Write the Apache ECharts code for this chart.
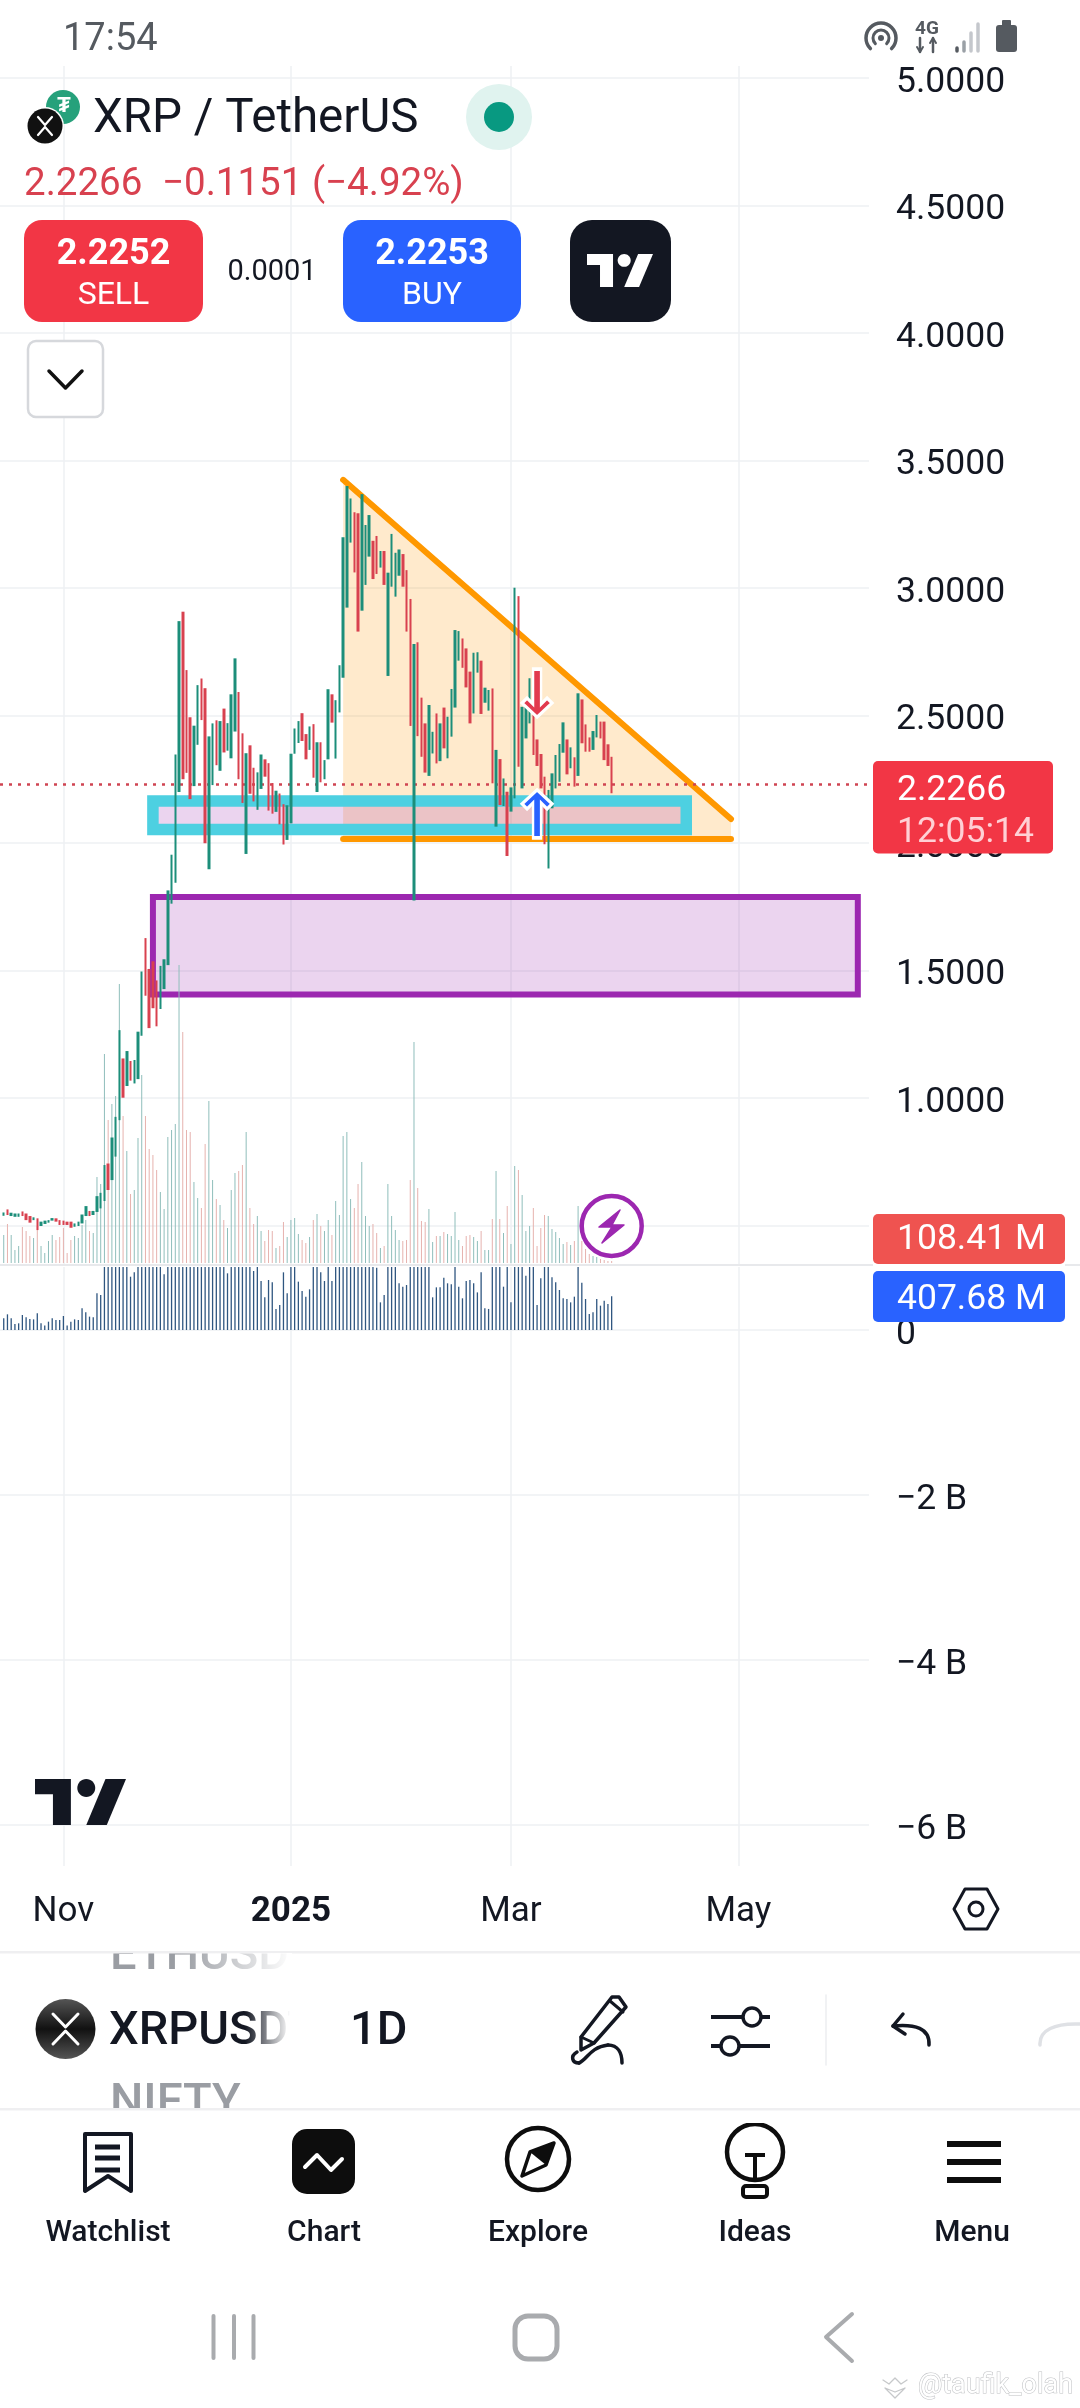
<!DOCTYPE html>
<html><head><meta charset="utf-8">
<style>html,body{margin:0;padding:0;background:#fff}#c{width:1080px;height:2408px}</style>
<script src="https://cdn.jsdelivr.net/npm/echarts@6/dist/echarts.min.js"></script>
</head><body><div id="c"></div>
<script>
const startDate = '2024-10-15', dayCount = 234, firstCandle = 1;
const xTickDates = ['2024-11-01','2025-01-01','2025-03-01','2025-05-01'];
const xTickLabels = ['Nov','{b|2025}','Mar','May'];
const priceTicks = [5,4.5,4,3.5,3,2.5,2,1.5,1,0.5];
const lowerTicks = [0,-2000,-4000,-6000];
const lastPrice = 2.2266;
const candleDirs = ('uduuudddud'+'uuuudddddu'+'uuuduuuudu'+'uududuuudd'+'dduuuuuudd'+'duudduudud'+'uuuddudduu'+'dddudduuuu'+'ddududuudu'+'uuuudduuud'+'duduuuuddd'+'uddduududu'+'uuuddduudu'+'udududuudu'+'uudddduuuu'+'udududdduu'+'dddd').split('');
const highs = [0.551,0.563,0.550,0.547,0.547,0.555,0.547,0.537,0.532,0.528,
0.515,0.519,0.521,0.529,0.528,0.521,0.519,0.515,0.515,0.508,
0.515,0.543,0.576,0.557,0.557,0.615,0.628,0.737,0.743,0.845,
0.926,1.266,1.155,1.184,1.145,1.149,1.260,1.496,1.627,1.506,
1.536,1.461,1.518,1.544,1.814,1.954,2.347,2.870,2.907,2.678,
2.493,2.460,2.619,2.645,2.607,2.418,2.469,2.481,2.478,2.527,
2.470,2.583,2.724,2.592,2.430,2.352,2.383,2.295,2.277,2.347,
2.328,2.313,2.235,2.205,2.194,2.152,2.148,2.350,2.449,2.478,
2.509,2.427,2.457,2.466,2.395,2.395,2.325,2.603,2.583,2.560,
2.697,3.199,3.400,3.351,3.297,3.293,3.368,3.247,3.286,3.185,
3.204,3.145,3.145,3.060,3.212,3.138,3.151,3.133,3.070,2.957,
2.780,2.787,2.570,2.469,2.541,2.436,2.508,2.469,2.531,2.495,
2.604,2.835,2.831,2.802,2.763,2.672,2.746,2.748,2.715,2.609,
2.600,2.606,2.365,2.329,2.253,2.201,2.218,3.001,2.968,2.534,
2.534,2.646,2.508,2.406,2.349,2.260,2.208,2.273,2.345,2.388,
2.473,2.406,2.375,2.336,2.587,2.563,2.465,2.414,2.439,2.502,
2.476,2.476,2.387,2.338];
const lows = [0.538,0.541,0.537,0.534,0.534,0.537,0.521,0.511,0.521,0.482,
0.498,0.506,0.511,0.519,0.515,0.502,0.502,0.502,0.491,0.495,
0.498,0.508,0.537,0.537,0.541,0.553,0.567,0.596,0.639,0.678,
0.770,0.913,1.001,1.047,1.068,1.057,1.074,1.244,1.401,1.274,
1.352,1.281,1.349,1.427,1.521,1.762,1.844,2.200,2.250,2.275,
2.172,2.223,2.385,2.482,1.999,1.897,2.227,2.305,2.283,2.355,
2.362,2.332,2.437,2.250,2.157,1.957,2.193,2.163,2.130,2.212,
2.260,2.127,2.115,2.122,2.073,1.994,2.012,2.077,2.350,2.392,
2.400,2.328,2.365,2.256,2.200,2.238,2.250,2.328,2.472,2.331,
2.512,2.648,2.923,3.178,3.061,2.829,2.911,3.012,3.123,3.035,
3.055,3.080,3.012,2.655,3.005,2.966,3.048,3.005,2.829,2.459,
1.774,2.419,2.338,2.276,2.263,2.351,2.312,2.321,2.371,2.332,
2.417,2.531,2.715,2.687,2.610,2.469,2.508,2.668,2.506,2.550,
2.519,2.234,2.064,2.149,2.145,1.949,2.123,2.175,2.299,2.214,
2.410,2.469,2.345,2.302,2.214,1.995,1.900,2.136,2.214,2.240,
2.354,2.269,2.293,2.221,2.263,2.391,2.358,2.358,2.365,2.414,
2.410,2.325,2.302,2.195];
const overlayVolumeM = [280,390,280,130,170,360,320,270,250,370,
170,100,220,280,230,260,350,100,230,270,
250,380,430,320,300,860,790,2090,1430,1590,
1670,2790,1470,1120,690,730,1250,1880,1470,1140,
1080,930,710,540,1260,1330,1390,2980,2310,1330,
1310,810,650,550,1190,1620,830,640,580,430,
350,730,900,920,980,1310,550,390,470,320,
220,330,320,150,170,410,260,430,450,290,
230,200,260,430,490,370,320,430,280,620,
480,1270,1310,640,550,790,1010,470,370,390,
300,150,170,790,470,330,230,220,230,830,
2210,750,420,410,540,210,270,270,310,290,
270,510,230,170,270,280,260,220,320,130,
130,440,920,440,300,570,190,970,930,680,
320,370,550,170,350,480,470,340,310,250,
190,210,180,220,570,220,140,90,70,60,
40,30,20,20];
const lowerVolumeM = [141,190,141,73,81,182,154,133,129,202,
81,53,101,141,121,121,170,53,101,129,
121,263,214,162,154,444,424,2290,1630,1790,
1870,2990,1670,1320,646,699,1450,2080,1670,1340,
1280,1130,910,675,1460,1530,1590,3180,2510,1530,
1510,1010,850,820,1390,1820,1030,840,800,790,
687,930,1100,1120,1180,1510,800,715,800,594,
396,606,578,255,303,699,444,800,800,586,
473,404,493,800,800,699,594,800,594,820,
780,1470,1510,840,800,990,1210,800,780,790,
755,335,424,990,800,770,566,525,545,1030,
2410,950,800,790,790,396,517,517,634,566,
553,800,525,384,594,606,566,456,699,263,
255,800,1120,800,525,800,335,1170,1130,880,
659,800,800,303,626,800,800,638,578,485,
384,376,335,404,800,574,376,194,214,376,
295,356,315,408];
const triangleDays = [92,196,196,92], trianglePrices = [3.424,2.094,2.016,2.016];
const supportBoxDays = [41,184], supportBoxPrices = [2.165,2.053];
const demandBoxDays = [41,230], demandBoxPrices = [1.788,1.406];
const sellArrow = [144,2.588], buyArrow = [144,2.114];

const TEAL='#1c8e7a', RED='#d8414f', GRID='#eef0f3', INK='#131722';
const FONT='Roboto, sans-serif';
const categories=[]; { const d0=Date.parse(startDate+'T00:00:00Z'); for(let i=0;i<dayCount;i++) categories.push(new Date(d0+i*864e5).toISOString().slice(0,10)); }
const isTick=(i,v)=>xTickDates.includes(v);
const up=i=>candleDirs[i]==='u';
// index 0 of the category axis (first day) has no candle
const candleData=[['-','-','-','-']].concat(highs.map((h,i)=>up(i)?[lows[i],h,lows[i],h]:[h,lows[i],lows[i],h]));
const UPARROW='path://M15 0 L30 14 L25 19 L19 13 L19 48 L11 48 L11 13 L5 19 L0 14 Z';
const DOWNARROW='path://M15 48 L30 34 L25 29 L19 35 L19 0 L11 0 L11 35 L5 29 L0 34 Z';

function polySeries(name,z,days,prices,draw){
  return {type:'custom',name,xAxisIndex:0,yAxisIndex:0,z,silent:true,clip:false,
    data:days.map((d,i)=>[d,prices[i]]),
    renderItem(p,api){ if(p.dataIndex!==0) return; return draw(api); }};
}
const lineCommon={stroke:'#ff9800',lineWidth:6,lineCap:'round'};

// ---- page furniture ----
const G=[];
const TY=3; // vertical optical offset for middle-aligned text
const txt=(x,y,text,size,fill,o={})=>G.push({type:'text',x,y:y+TY,z:o.z||50,style:{text,fontSize:size,fill,fontFamily:FONT,fontWeight:o.w||400,align:o.a||'left',verticalAlign:'middle',opacity:o.op==null?1:o.op}});
const rect=(x,y,w,h,fill,o={})=>G.push({type:'rect',z:o.z||40,shape:{x,y,width:w,height:h,r:o.r||0},style:{fill,stroke:o.s||null,lineWidth:o.lw||0}});
const circ=(cx,cy,r,fill,o={})=>G.push({type:'circle',z:o.z||40,shape:{cx,cy,r},style:{fill,stroke:o.s||null,lineWidth:o.lw||0}});
const pl=(pts,stroke,lw,o={})=>G.push({type:'polyline',z:o.z||45,shape:{points:pts},style:{fill:null,stroke,lineWidth:lw,lineCap:o.cap||'round',lineJoin:'round'}});
const pg=(pts,fill,o={})=>G.push({type:'polygon',z:o.z||45,shape:{points:pts},style:{fill,stroke:o.s||null,lineWidth:o.lw||0,lineJoin:'round'}});
const curve=(x1,y1,c1x,c1y,c2x,c2y,x2,y2,stroke,lw)=>G.push({type:'bezierCurve',z:45,shape:{x1,y1,x2,y2,cpx1:c1x,cpy1:c1y,cpx2:c2x,cpy2:c2y},style:{fill:null,stroke,lineWidth:lw,lineCap:'round'}});
function tvLogo(x,y,w,h,fill,z){
  const P=(a)=>a.map(p=>[x+p[0]/35.5*w,y+p[1]/18*h]);
  pg(P([[0,0],[14,0],[14,18],[7,18],[7,6],[0,6]]),fill,{z});
  pg(P([[27.5,0],[35.5,0],[28,18],[20,18]]),fill,{z});
  G.push({type:'ellipse',z,shape:{cx:x+20/35.5*w,cy:y+3.5/18*h,rx:3.5/35.5*w,ry:3.5/18*h},style:{fill}});
}

// status bar
txt(63,37,'17:54',38,'#555a60');
G.push({type:'arc',z:45,shape:{cx:881,cy:38,r:15,startAngle:Math.PI*0.75,endAngle:Math.PI*0.25},style:{fill:null,stroke:'#555a60',lineWidth:3.5,lineCap:'round'}});
G.push({type:'arc',z:45,shape:{cx:881,cy:38,r:8,startAngle:Math.PI*0.75,endAngle:Math.PI*0.25},style:{fill:null,stroke:'#555a60',lineWidth:3,lineCap:'round'}});
circ(881,38,3,'#555a60');
txt(927,26,'4G',19,'#555a60',{a:'center',w:700});
pl([[920,52],[920,38]],'#555a60',2.5); pl([[933,38],[933,52]],'#555a60',2.5);
pl([[917,47],[920,52],[923,47]],'#555a60',2); pl([[930,43],[933,38],[936,43]],'#555a60',2);
pl([[957,51],[957,48]],'#555a60',3.5); pl([[964,51],[964,42]],'#9aa0a6',3.5); pl([[971,51],[971,33]],'#c4c7cc',3.5); pl([[978,51],[978,24]],'#c4c7cc',3.5);
rect(996,25,21,27,'#555a60',{r:3}); rect(1002,20,9,6,'#555a60',{r:1});

// header legend
circ(63,107,17,'#26a17b'); txt(64,103,'₮',22,'#fff',{a:'center',w:700,z:41});
circ(45,126,19,'#fff',{z:42}); circ(45,126,17.5,'#111',{z:43});
pl([[38,117],[45,125],[52,117]],'#fff',2.2,{z:46}); pl([[38,135],[45,127],[52,135]],'#fff',2.2,{z:46});
txt(93,117,'XRP / TetherUS',47.5,INK);
circ(499,117,33,'#e0f3ef'); circ(499,117,15,'#089981',{z:41});
txt(24,182,'2.2266',38.5,RED); txt(162,182,'−0.1151 (−4.92%)',38.5,RED);
// buttons
rect(24,220,179,102,'#f23645',{r:18}); txt(113.5,252,'2.2252',36,'#fff',{a:'center',w:700}); txt(113.5,293,'SELL',32,'#fff',{a:'center'});
txt(272,270,'0.0001',29,INK,{a:'center'});
rect(343,220,178,102,'#2962ff',{r:18}); txt(432,252,'2.2253',36,'#fff',{a:'center',w:700}); txt(432,293,'BUY',32,'#fff',{a:'center'});
rect(570,220,101,102,'#131722',{r:22}); tvLogo(587,254,66,33,'#fff',45);
rect(28,341,75,76,'#fff',{r:8,s:'#d6d8dc',lw:2.5}); pl([[49,371],[65.5,388],[82,371]],'#111',3.5);
// chart watermark logo
tvLogo(35,1779,91,46,'#131722',8);

// price tags
rect(873,761,180,92.5,'#f23645',{r:5,z:30});
txt(897,788,'2.2266',35.5,'#fff',{z:31}); txt(897,830,'12:05:14',35.5,'#ffd0d5',{z:31});
rect(873,1214,192,50,'#ef5350',{r:5,z:30}); txt(897,1237,'108.41 M',35.5,'#fff',{z:31});
rect(873,1271,192,51,'#2962ff',{r:5,z:30}); txt(897,1297,'407.68 M',35.5,'#fff',{z:31});
// bolt
circ(611.7,1226,30,'#fff',{s:'#9c27b0',lw:4.5,z:20});
pg([[620,1210],[599,1227],[612,1227],[602,1243],[624,1225],[612,1225]],'#9c27b0',{z:21,s:'#9c27b0',lw:1.5});
// pane separator
rect(0,1264,873,2,'#e8e9ec',{z:3}); rect(1065,1264,15,2,'#e8e9ec',{z:3});
// settings hexagon
pg([[954,1909],[965,1889],[987,1889],[998,1909],[987,1929],[965,1929]],'#fff',{s:INK,lw:3});
circ(976,1909,7,'#fff',{s:INK,lw:3,z:46});

// toolbar symbols
txt(110,1954,'ETHUSD',47,'#9a9da3',{z:41,w:500});
rect(0,1930,1080,22,'#fff',{z:42});
rect(0,1951,1080,2.5,'#efeff1',{z:43});
G.push({type:'rect',z:44,shape:{x:180,y:1953,width:112,height:40},style:{fill:new echarts.graphic.LinearGradient(0,0,1,0,[{offset:0,color:'rgba(255,255,255,0)'},{offset:1,color:'#fff'}])}});
txt(110,2101,'NIFTY',47,'#9a9da3',{z:41,w:500});
rect(0,2108,1080,15,'#fff',{z:42}); rect(0,2108,1080,2.5,'#efeff1',{z:43});
G.push({type:'circle',z:40,shape:{cx:65.5,cy:2029,r:30},style:{fill:new echarts.graphic.LinearGradient(0,0,0,1,[{offset:0,color:'#555'},{offset:.5,color:'#111'},{offset:1,color:'#555'}])}});
pl([[53,2014],[65.5,2027],[78,2014]],'#fff',3); pl([[53,2044],[65.5,2031],[78,2044]],'#fff',3);
txt(109,2029,'XRPUSDT',47,INK,{w:500,z:41});
G.push({type:'rect',z:44,shape:{x:245,y:2000,width:45,height:60},style:{fill:new echarts.graphic.LinearGradient(0,0,1,0,[{offset:0,color:'rgba(255,255,255,0)'},{offset:1,color:'#fff'}])}});
rect(290,2000,50,60,'#fff',{z:44});
txt(350,2029,'1D',47,INK,{w:500});
// pencil
pg([[581,2037],[581,2050],[594,2043],[626,2007],[619,1997],[612,1997]],'#fff',{s:'#131722',lw:3.5});
pl([[610,2001],[623,2012]],'#131722',3); pl([[581,2037],[594,2043]],'#131722',3);
curve(577,2052,570,2056,572,2063,579,2063,'#131722',3.5);
curve(579,2063,587,2060,590,2047,608,2045,'#131722',3.5);
curve(608,2045,618,2045,622,2053,622,2063,'#131722',3.5);
// sliders
pl([[711,2017],[770,2017]],'#131722',4,{cap:'butt'}); pl([[711,2046],[770,2046]],'#131722',4,{cap:'butt'});
circ(752,2017,9,'#fff',{s:'#131722',lw:3.5,z:46}); circ(730,2046,9,'#fff',{s:'#131722',lw:3.5,z:46});
pl([[826,1995],[826,2065]],'#eceef1',1.5);
// undo / redo
pl([[903,2014],[893,2026],[905,2034]],'#131722',3.5);
curve(893,2026,915,2024,930,2028,929,2045,'#131722',3.5);
curve(1040,2045,1039,2030,1055,2023,1080,2024,'#dfe1e5',3.5);

// bottom nav
const navX=[108,324,538,755,972], navLabels=['Watchlist','Chart','Explore','Ideas','Menu'];
navLabels.forEach((t,i)=>txt(navX[i],2230,t,30,INK,{a:'center',w:500}));
pg([[85,2134],[131,2134],[131,2191],[108,2176],[85,2191]],'#fff',{s:'#131722',lw:4});
[2147,2158,2170].forEach(y=>rect(95,y-2.5,25,5,'#131722',{z:46}));
rect(292,2129,63,65,'#0d0d0d',{r:15}); pl([[305,2167],[317,2155],[331,2170],[342,2159]],'#fff',4);
circ(538,2159,31,'#fff',{s:'#0d0d0d',lw:4.5});
pg([[554,2143],[546,2165],[522,2176],[530,2152]],'#fff',{s:'#0d0d0d',lw:3.5,z:46});
pg([[554,2143],[530,2152],[546,2165]],'#0d0d0d',{z:47});
circ(755,2152,28,'#fff',{s:'#0d0d0d',lw:4.5});
rect(743,2186,24,11,'#fff',{s:'#0d0d0d',lw:4,r:3,z:41});
pl([[745,2155],[765,2155]],'#0d0d0d',4,{cap:'butt'}); pl([[755,2155],[755,2178]],'#0d0d0d',4,{cap:'butt'});
[2144,2162,2180].forEach(y=>rect(947,y-3,54,6,'#0d0d0d'));
// android nav
[213.5,234,253.5].forEach(x=>rect(x-2,2314,4,46,'#a9abae',{r:2}));
rect(515,2316,42,43,'#fff',{r:13,s:'#a9abae',lw:5});
pl([[852,2314],[826,2337],[852,2361]],'#a9abae',4);
// image watermark
pl([[883,2380],[889,2384],[895,2378],[901,2384],[907,2380]],'#c6c8ca',1.3);
pg([[885,2388],[895,2398],[905,2388],[895,2392]],'#fff',{s:'#c6c8ca',lw:1.3});
G.push({type:'text',x:918,y:2386,z:50,style:{text:'@taufik_olah',fontSize:27,fontFamily:FONT,fill:'#fff',stroke:'#c0c2c5',lineWidth:1.1,verticalAlign:'middle'}});

const option={
  animation:false,backgroundColor:'#fff',textStyle:{fontFamily:FONT},
  grid:[{left:-1.2,top:66,width:870.2,height:1199},{left:-1.2,top:1267,width:870.2,height:599}],
  xAxis:[
    {type:'category',gridIndex:0,data:categories,boundaryGap:false,axisLine:{show:false},axisTick:{show:false},axisLabel:{show:false},
     splitLine:{show:true,interval:isTick,lineStyle:{color:GRID,width:1.5}}},
    {type:'category',gridIndex:1,data:categories,boundaryGap:false,axisLine:{show:false},axisTick:{show:false},
     axisLabel:{show:true,interval:isTick,margin:29,fontSize:35,color:INK,fontFamily:FONT,
       formatter:v=>xTickLabels[xTickDates.indexOf(v)]||'',rich:{b:{fontSize:35,fontWeight:'bold',color:INK,fontFamily:FONT}}},
     splitLine:{show:true,interval:isTick,lineStyle:{color:GRID,width:1.5}}}
  ],
  yAxis:[
    {type:'value',gridIndex:0,position:'right',min:0.345,max:5.047,axisLine:{show:false},
     axisTick:{show:false,customValues:priceTicks},
     axisLabel:{customValues:priceTicks,margin:27,fontSize:35.5,color:INK,fontFamily:FONT,verticalAlign:'top',lineHeight:10,formatter:v=>v.toFixed(4)},
     splitLine:{show:true,customValues:priceTicks,lineStyle:{color:GRID,width:1.5}}},
    {type:'value',gridIndex:0,position:'left',min:-20,max:11970,show:false,splitLine:{show:false}},
    {type:'value',gridIndex:1,position:'right',min:-6497,max:763.6,axisLine:{show:false},
     axisTick:{show:false,customValues:lowerTicks},
     axisLabel:{customValues:lowerTicks,margin:27,fontSize:35.5,color:INK,fontFamily:FONT,verticalAlign:'top',lineHeight:10,formatter:v=>v===0?'0':'\u2212'+Math.abs(v/1000)+' B'},
     splitLine:{show:true,customValues:lowerTicks,lineStyle:{color:GRID,width:1.5}}}
  ],
  series:[
    polySeries('triangle',1,triangleDays,trianglePrices,api=>{
      const p=triangleDays.map((d,i)=>api.coord([d,trianglePrices[i]]));
      return {type:'group',children:[
        {type:'polygon',shape:{points:p},style:{fill:'rgba(255,152,0,0.2)'}},
        {type:'polyline',shape:{points:[p[0],p[1]]},style:Object.assign({fill:null},lineCommon)},
        {type:'polyline',shape:{points:[p[2],p[3]]},style:Object.assign({fill:null},lineCommon)}]};
    }),
    polySeries('demand',2,[demandBoxDays[0],demandBoxDays[1]],demandBoxPrices,api=>{
      const a=api.coord([demandBoxDays[0],demandBoxPrices[0]]),b=api.coord([demandBoxDays[1],demandBoxPrices[1]]);
      return {type:'rect',shape:{x:a[0],y:a[1],width:b[0]-a[0],height:b[1]-a[1]},style:{fill:'rgba(156,39,176,0.2)',stroke:'#9c27b0',lineWidth:6}};
    }),
    polySeries('support',2,[supportBoxDays[0],supportBoxDays[1]],supportBoxPrices,api=>{
      const a=api.coord([supportBoxDays[0],supportBoxPrices[0]]),b=api.coord([supportBoxDays[1],supportBoxPrices[1]]);
      return {type:'rect',shape:{x:a[0],y:a[1],width:b[0]-a[0],height:b[1]-a[1]},style:{fill:'rgba(156,39,176,0.2)',stroke:'#4dd0e1',lineWidth:11.5}};
    }),
    {type:'bar',name:'overlay volume',xAxisIndex:0,yAxisIndex:1,z:4,barWidth:1,silent:true,
     data:overlayVolumeM.map((v,i)=>({value:[i+firstCandle,v],itemStyle:{color:up(i)?'#8fbebb':'#e6b2ae'}}))},
    {type:'candlestick',name:'XRPUSDT',xAxisIndex:0,yAxisIndex:0,z:5,barWidth:3,silent:true,
     itemStyle:{color:TEAL,color0:RED,borderColor:TEAL,borderColor0:RED,borderWidth:0},
     data:candleData,
     markLine:{silent:true,symbol:'none',label:{show:false},lineStyle:{color:'#cf4452',type:[3,6],width:2.5},data:[{yAxis:lastPrice}]}},
    {type:'scatter',name:'sell',xAxisIndex:0,yAxisIndex:0,z:6,silent:true,symbol:DOWNARROW,symbolSize:[30,48],
     itemStyle:{color:'#e23a4e',borderColor:'#fff',borderWidth:3,opacity:1},data:[sellArrow]},
    {type:'scatter',name:'buy',xAxisIndex:0,yAxisIndex:0,z:6,silent:true,symbol:UPARROW,symbolSize:[30,48],
     itemStyle:{color:'#2962ff',borderColor:'#fff',borderWidth:3,opacity:1},data:[buyArrow]},
    {type:'bar',name:'lower volume',xAxisIndex:1,yAxisIndex:2,z:4,barWidth:1.3,silent:true,
     itemStyle:{color:'#2f5680'},data:lowerVolumeM.map((v,i)=>[i+firstCandle,v])}
  ],
  graphic:{elements:G}
};
const chart=echarts.init(document.getElementById('c'),null,{renderer:'canvas',width:1080,height:2408});
chart.setOption(option);
</script></body></html>
